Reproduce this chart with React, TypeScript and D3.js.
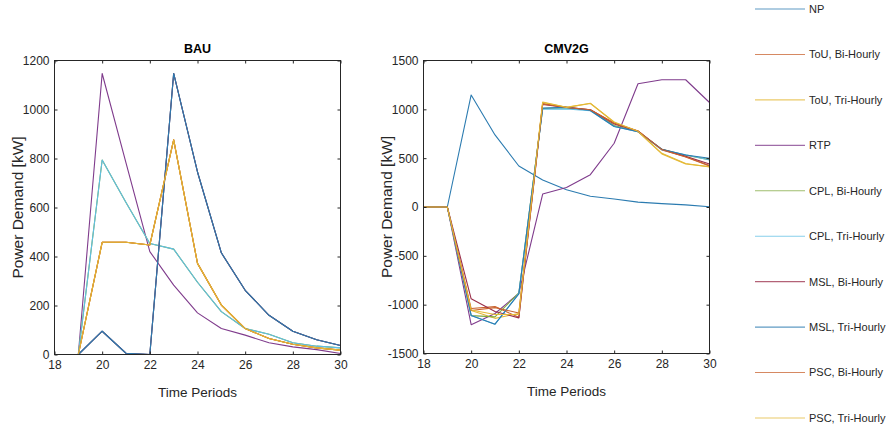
import { useEffect, useRef } from 'react';
import * as d3 from 'd3';

const periods = [18, 19, 20, 21, 22, 23, 24, 25, 26, 27, 28, 29, 30];
const xTicks = [18, 20, 22, 24, 26, 28, 30];
const bauTicks = [0, 200, 400, 600, 800, 1000, 1200];
const cmvTicks = [-1500, -1000, -500, 0, 500, 1000, 1500];

const seriesNames = [
  'NP', 'ToU, Bi-Hourly', 'ToU, Tri-Hourly', 'RTP', 'CPL, Bi-Hourly',
  'CPL, Tri-Hourly', 'MSL, Bi-Hourly', 'MSL, Tri-Hourly', 'PSC, Bi-Hourly', 'PSC, Tri-Hourly'
];
const seriesColors = [
  '#2b7bb0', '#c9622e', '#e4b936', '#7f3b8c', '#80a83e',
  '#5fbfe6', '#9a2e4a', '#2b7bb0', '#c9622e', '#e4b936'
];

// BAU scenario (kW)
const bauNP = [0, 0, 95, 5, 0, 1147, 745, 415, 262, 160, 95, 60, 37];
const bauToUBi = [0, 0, 458, 458, 447, 876, 372, 202, 106, 65, 42, 27, 18];
const bauToUTri = [0, 0, 458, 458, 447, 876, 372, 202, 106, 65, 42, 27, 18];
const bauRTP = [0, 0, 1147, 782, 420, 283, 170, 106, 79, 48, 31, 20, 4];
const bauCPLBi = [0, 0, 794, 620, 453, 430, 295, 175, 106, 83, 48, 34, 27];
const bauCPLTri = [0, 0, 794, 620, 453, 430, 295, 175, 106, 83, 48, 34, 27];
const bauMSLBi = [0, 0, 95, 5, 0, 1147, 745, 415, 262, 160, 95, 60, 37];
const bauMSLTri = [0, 0, 95, 5, 0, 1147, 745, 415, 262, 160, 95, 60, 37];
const bauPSCBi = [0, 0, 458, 458, 447, 876, 372, 202, 106, 65, 42, 27, 18];
const bauPSCTri = [0, 0, 458, 458, 447, 876, 372, 202, 106, 65, 42, 27, 18];

// CMV2G scenario (kW)
const cmvNP = [0, 0, 1147, 738, 420, 277, 177, 110, 82, 50, 35, 22, 3];
const cmvToUBi = [0, 0, -1040, -1020, -1130, 1060, 1020, 995, 860, 778, 585, 515, 425];
const cmvToUTri = [0, 0, -1060, -1140, -1090, 1070, 1020, 1063, 865, 772, 544, 441, 413];
const cmvRTP = [0, 0, -1205, -1090, -885, 133, 200, 331, 653, 1262, 1303, 1303, 1070];
const cmvCPLBi = [0, 0, -1112, -1125, -880, 1008, 1015, 990, 835, 772, 590, 530, 485];
const cmvCPLTri = [0, 0, -1112, -1200, -885, 1002, 1005, 985, 824, 772, 585, 535, 482];
const cmvMSLBi = [0, 0, -940, -1070, -1135, 1050, 1020, 995, 850, 775, 590, 520, 440];
const cmvMSLTri = [0, 0, -1110, -1200, -890, 1012, 1022, 988, 824, 772, 592, 533, 499];
const cmvPSCBi = [0, 0, -1060, -1030, -1085, 1055, 1018, 995, 858, 778, 588, 512, 420];
const cmvPSCTri = [0, 0, -1055, -1100, -1100, 1075, 1020, 1060, 870, 775, 550, 445, 410];

const bauSeries = [bauNP, bauToUBi, bauToUTri, bauRTP, bauCPLBi, bauCPLTri, bauMSLBi, bauMSLTri, bauPSCBi, bauPSCTri];
const cmvSeries = [cmvNP, cmvToUBi, cmvToUTri, cmvRTP, cmvCPLBi, cmvCPLTri, cmvMSLBi, cmvMSLTri, cmvPSCBi, cmvPSCTri];

const FONT = "'Liberation Sans', Arial, Helvetica, sans-serif";
const INK = '#262626';

const App = () => {
  const svgRef = useRef<SVGSVGElement>(null);

  useEffect(() => {
    const svg = d3.select(svgRef.current);
    svg.selectAll('*').remove();

    const drawPanel = (left: number, right: number, top: number, bottom: number,
      yDomain: [number, number], yTicks: number[], data: number[][], title: string) => {
      const x = d3.scaleLinear().domain([18, 30]).range([left, right]);
      const y = d3.scaleLinear().domain(yDomain).range([bottom, top]);
      const g = svg.append('g');
      const plain = (d: d3.NumberValue) => String(d);

      const myLine = d3.line<number>()
        .x((_, i) => x(periods[i]))
        .y(v => y(v));

      g.selectAll('path.series')
        .data(data)
        .join('path')
        .attr('class', 'series')
        .attr('d', d => myLine(d))
        .attr('fill', 'none')
        .attr('stroke', (_, i) => seriesColors[i])
        .attr('stroke-width', 1.1)
        .attr('stroke-linejoin', 'round');

      const bottomAxis = g.append('g')
        .attr('transform', `translate(0,${bottom})`)
        .call(d3.axisBottom(x).tickValues(xTicks).tickFormat(plain).tickSizeInner(-3).tickSizeOuter(0).tickPadding(6));
      const leftAxis = g.append('g')
        .attr('transform', `translate(${left},0)`)
        .call(d3.axisLeft(y).tickValues(yTicks).tickFormat(plain).tickSizeInner(-3).tickSizeOuter(0).tickPadding(5));
      const topAxis = g.append('g')
        .attr('transform', `translate(0,${top})`)
        .call(d3.axisTop(x).tickValues(xTicks).tickSizeInner(-3).tickSizeOuter(0).tickFormat(() => ''));
      const rightAxis = g.append('g')
        .attr('transform', `translate(${right},0)`)
        .call(d3.axisRight(y).tickValues(yTicks).tickSizeInner(-3).tickSizeOuter(0).tickFormat(() => ''));

      [bottomAxis, leftAxis, topAxis, rightAxis].forEach(a => {
        a.select('.domain').remove();
        a.selectAll('line').attr('stroke', INK);
        a.selectAll('text').attr('fill', INK).attr('font-family', FONT).attr('font-size', 12);
      });

      g.append('rect')
        .attr('x', left).attr('y', top)
        .attr('width', right - left).attr('height', bottom - top)
        .attr('fill', 'none').attr('stroke', INK).attr('stroke-width', 1);

      g.append('text')
        .attr('x', (left + right) / 2).attr('y', top - 8)
        .attr('text-anchor', 'middle').attr('font-family', FONT)
        .attr('font-weight', 'bold').attr('font-size', 12.5).attr('fill', '#000')
        .text(title);

      g.append('text')
        .attr('x', (left + right) / 2).attr('y', bottom + 42)
        .attr('text-anchor', 'middle').attr('font-family', FONT)
        .attr('font-size', 13.5).attr('fill', INK)
        .text('Time Periods');

      g.append('text')
        .attr('transform', `translate(${left - 32},${(top + bottom) / 2}) rotate(-90)`)
        .attr('text-anchor', 'middle').attr('font-family', FONT)
        .attr('font-size', 15.5).attr('fill', INK)
        .text('Power Demand [kW]');
    };

    drawPanel(54.5, 340.5, 60.5, 354.5, [0, 1200], bauTicks, bauSeries, 'BAU');
    drawPanel(423.5, 709.5, 60.5, 353.5, [-1500, 1500], cmvTicks, cmvSeries, 'CMV2G');

    const legendY = d3.scalePoint<string>().domain(seriesNames).range([9, 418]);
    const legend = svg.append('g');
    const rows = legend.selectAll('g')
      .data(seriesNames)
      .join('g')
      .attr('transform', d => `translate(0,${legendY(d)})`);
    rows.append('line')
      .attr('x1', 755).attr('x2', 805)
      .attr('stroke', (_, i) => seriesColors[i])
      .attr('stroke-width', 1.1)
      .attr('opacity', 0.75);
    rows.append('text')
      .attr('x', 809).attr('dy', '0.35em')
      .attr('font-family', FONT).attr('font-size', 11).attr('fill', INK)
      .text(d => d);
  }, []);

  return (
    <svg ref={svgRef} width={886} height={434}
      style={{ position: 'absolute', left: 0, top: 0, background: '#fff' }} />
  );
};

export default App;
